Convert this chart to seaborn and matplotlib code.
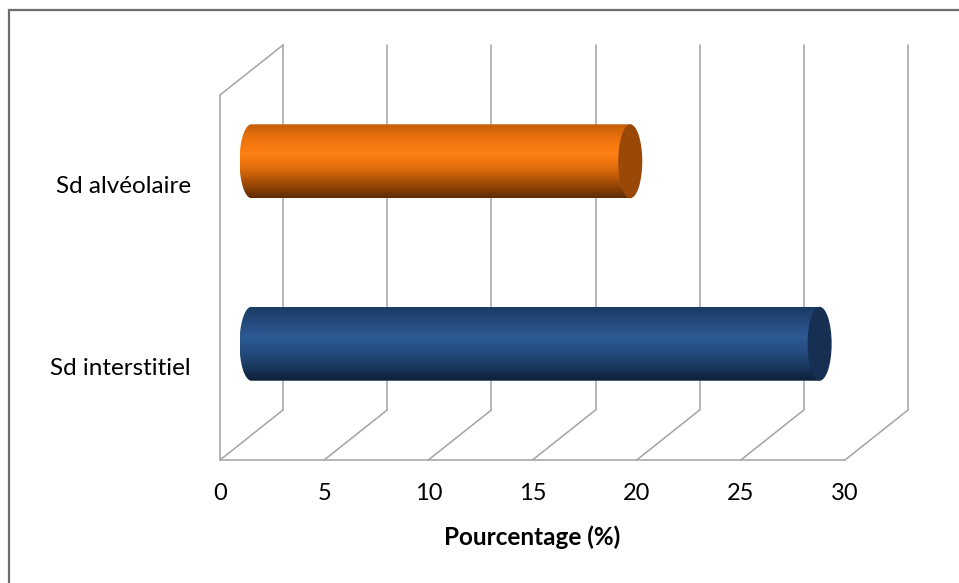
import numpy as np
import pandas as pd
import seaborn as sns
import matplotlib
matplotlib.use("Agg")
import matplotlib.pyplot as plt
from matplotlib.patches import PathPatch, Ellipse, Rectangle
from matplotlib.path import Path
from matplotlib.transforms import ScaledTranslation, IdentityTransform
from matplotlib.lines import Line2D
from matplotlib.colors import to_rgb

# ---- data ----
categories = ["Sd alvéolaire", "Sd interstitiel"]
values = [18.18, 27.27]
xticks = [0, 5, 10, 15, 20, 25, 30]
xlabel = "Pourcentage (%)"

# cylinder shading, top -> bottom
body_shades = {
    "Sd alvéolaire": ["#C45E08", "#EE730F", "#FF8014", "#E06C0C", "#A24C06", "#5E2B03"],
    "Sd interstitiel": ["#1A3A66", "#23497C", "#2C5A94", "#244C80", "#1A3960", "#0D1F37"],
}
cap_colors = {"Sd alvéolaire": "#9A4807", "Sd interstitiel": "#162F52"}

sns.set_theme(style="white")
plt.rcParams["font.family"] = ["Lato", "DejaVu Sans"]

W, H, DPI = 959, 583, 100
fig = plt.figure(figsize=(W / DPI, H / DPI), dpi=DPI)

# middle depth plane of the 3-D box: value 0 at x0_px, value 30 at x1_px
x0_px, x1_px, top_px, bottom_px = 251.5, 876.5, 70, 435
px_per_unit = (x1_px - x0_px) / (xticks[-1] - xticks[0])
x_view_min = -1.5  # room on the left for the rounded cylinder ends
left_px = x0_px + x_view_min * px_per_unit
ax = fig.add_axes([left_px / W, 1 - bottom_px / H,
                   (x1_px - left_px) / W, (bottom_px - top_px) / H])
ax.patch.set_alpha(0)

df = pd.DataFrame({"cat": categories, "val": values})
sns.barplot(data=df, x="val", y="cat", orient="h", width=0.405,
            color="white", ax=ax)
for s in ax.spines.values():
    s.set_visible(False)
ax.set_xticks([])
ax.set_yticks([])
ax.set_xlabel("")
ax.set_ylabel("")
y_floor = len(categories) - 0.5
y_top = -0.5
ax.set_xlim(x_view_min, xticks[-1])
ax.set_ylim(y_floor, y_top)

# depth offset (pixels) from the middle plane to the back plane
DX, DY = 31.5, 25.0
GRID = "#A6A6A6"


def pt(x, y, depth):
    X, Y = ax.transData.transform((x, y))
    return X + depth * DX, Y + depth * DY


def seg(p, q):
    ax.add_line(Line2D([p[0], q[0]], [p[1], q[1]], transform=IdentityTransform(),
                       color=GRID, lw=1.15, clip_on=False, zorder=0.5))


# back wall verticals and floor diagonals
for xv in xticks:
    seg(pt(xv, y_floor, 1), pt(xv, y_top, 1))
    seg(pt(xv, y_floor, -1), pt(xv, y_floor, 1))
# floor front edge
seg(pt(xticks[0], y_floor, -1), pt(xticks[-1], y_floor, -1))
# left side wall
seg(pt(0, y_floor, -1), pt(0, y_top, -1))
seg(pt(0, y_top, -1), pt(0, y_top, 1))

# cylinders
a = 12.0 / px_per_unit
for patch, cat in zip(ax.patches, categories):
    x0, w = patch.get_x(), patch.get_width()
    y0, h = patch.get_y(), patch.get_height()
    patch.set_visible(False)
    cy, ry = y0 + h / 2, h / 2
    t = np.linspace(np.pi / 2, 3 * np.pi / 2, 60)
    verts = [(x0 + w, y0), (x0, y0)]
    verts += list(zip(x0 + a * np.cos(t), cy - ry * np.sin(t)))
    verts += [(x0 + w, y0 + h), (x0 + w, y0)]
    codes = [Path.MOVETO] + [Path.LINETO] * (len(verts) - 2) + [Path.CLOSEPOLY]
    body = PathPatch(Path(verts, codes), facecolor="none", edgecolor="none",
                     transform=ax.transData)
    ax.add_patch(body)
    shades = np.array([to_rgb(c) for c in body_shades[cat]])
    pos = np.linspace(0, 1, len(shades))
    yy = np.linspace(0, 1, 200)
    grad = np.stack([np.interp(yy, pos, shades[:, k]) for k in range(3)], axis=-1)
    grad = grad[:, None, :]
    im = ax.imshow(grad, extent=(x0 - a, x0 + w + a, y0 + h, y0), origin="upper",
                   aspect="auto", zorder=2, interpolation="bilinear")
    im.set_clip_path(body)
    cap = Ellipse((x0 + w, cy), 2 * a, h, facecolor=cap_colors[cat],
                  edgecolor="none", zorder=3)
    ax.add_patch(cap)

ax.set_xlim(x_view_min, xticks[-1])
ax.set_ylim(y_floor, y_top)

# labels placed on the front plane
front = ScaledTranslation(-DX / DPI, -DY / DPI, fig.dpi_scale_trans)
zero_shift = ScaledTranslation(-x_view_min * px_per_unit / DPI, 0, fig.dpi_scale_trans)
for xv in xticks:
    ax.text(xv, 0, str(xv), transform=ax.get_xaxis_transform() + front
            + ScaledTranslation(0, -33 / DPI, fig.dpi_scale_trans),
            ha="center", va="center", fontsize=17, color="#000000", clip_on=False)
for i, cat in enumerate(categories):
    ax.text(0, i, cat, transform=ax.get_yaxis_transform() + front + zero_shift
            + ScaledTranslation(-29 / DPI, 0, fig.dpi_scale_trans),
            ha="right", va="center", fontsize=17.5, color="#000000", clip_on=False)
ax.text((xticks[0] + xticks[-1]) / 2, 0, xlabel,
        transform=ax.get_xaxis_transform() + front
        + ScaledTranslation(0, -77 / DPI, fig.dpi_scale_trans),
        ha="center", va="center", fontsize=17.5, fontweight="bold", color="#000000",
        clip_on=False)

# chart area border
fig.add_artist(Rectangle((8.5 / W, -0.1), 1.2, 1.1 - 10.5 / H, transform=fig.transFigure,
                         facecolor="none", edgecolor="#6E6E6E", lw=1.6))

fig.savefig("out.png", dpi=DPI)
